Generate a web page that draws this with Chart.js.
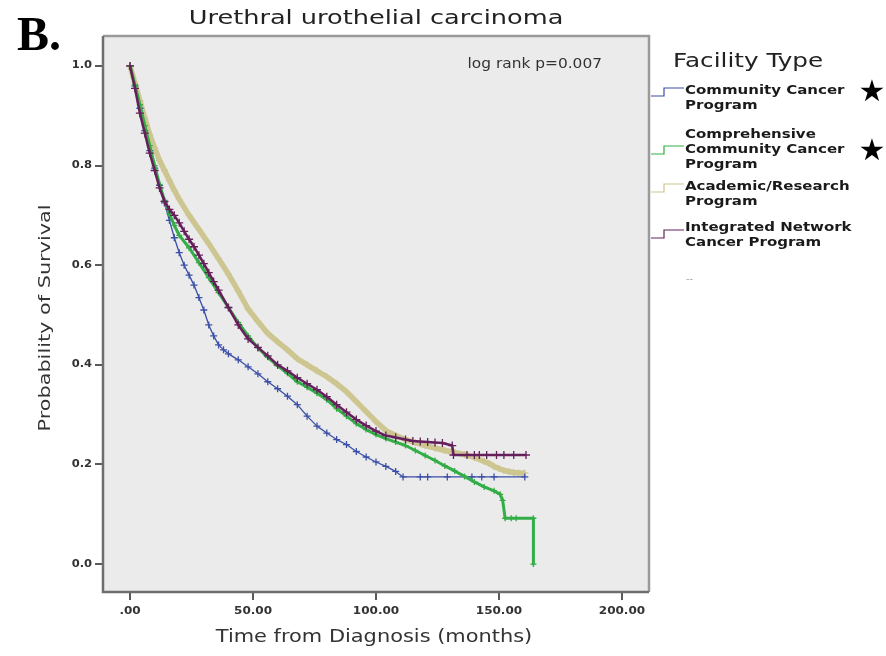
<!DOCTYPE html>
<html>
<head>
<meta charset="utf-8">
<script src="https://cdn.jsdelivr.net/npm/chart.js@4.4.1/dist/chart.umd.min.js"></script>
<style>
html, body { margin: 0; padding: 0; background: #fff; }
canvas { display: block; }
</style>
</head>
<body>
<canvas id="km" width="886" height="656"></canvas>
<script>
// axis ticks
const xTicks = [0, 50, 100, 150, 200];
const yTicks = [0, 0.2, 0.4, 0.6, 0.8, 1.0];

// Community Cancer Program (blue)
const communityMonths = [0,2,4,6,8,10,12,14,16,18,20,22,24,26,28,30,32,34,36,38,40,44,48,52,56,60,64,68,72,76,80,84,88,92,96,100,104,108,111,118,121,129,139,143,148,160.5];
const communitySurv = [1,0.96,0.915,0.87,0.83,0.795,0.76,0.725,0.69,0.655,0.625,0.6,0.58,0.56,0.535,0.51,0.48,0.458,0.44,0.43,0.422,0.41,0.396,0.382,0.366,0.352,0.337,0.32,0.297,0.277,0.263,0.25,0.24,0.226,0.215,0.205,0.196,0.186,0.175,0.175,0.175,0.175,0.175,0.175,0.175,0.175];

// Comprehensive Community Cancer Program (green)
const comprehensiveMonths = [0,2,4,6,8,10,12,14,16,18,20,24,28,32,36,40,44,48,52,56,60,64,68,72,76,80,84,88,92,96,100,104,108,112,116,120,124,128,132,136,140,144,148,150.5,151.5,152.5,155,157,164,164];
const comprehensiveSurv = [1,0.962,0.922,0.88,0.84,0.8,0.762,0.73,0.703,0.68,0.66,0.635,0.605,0.575,0.545,0.515,0.485,0.458,0.434,0.415,0.398,0.383,0.366,0.355,0.343,0.33,0.312,0.297,0.282,0.27,0.26,0.252,0.245,0.238,0.228,0.218,0.208,0.197,0.187,0.176,0.165,0.155,0.147,0.14,0.128,0.092,0.092,0.092,0.092,0.0];

// Academic/Research Program (tan)
const academicMonths = [0,2,4,6,8,10,12,14,16,18,20,24,28,32,36,40,44,48,52,56,60,64,68,72,76,80,84,88,92,96,100,104,108,112,116,120,124,128,132,136,140,144,146,148,150,152,154,156,158,160.5];
const academicSurv = [1,0.965,0.93,0.895,0.862,0.835,0.81,0.79,0.77,0.75,0.732,0.7,0.672,0.643,0.613,0.582,0.548,0.512,0.487,0.463,0.446,0.43,0.412,0.4,0.388,0.376,0.362,0.346,0.326,0.306,0.286,0.268,0.258,0.25,0.244,0.238,0.233,0.228,0.224,0.22,0.214,0.206,0.202,0.196,0.192,0.188,0.186,0.184,0.183,0.183];

// Integrated Network Cancer Program (purple)
const integratedMonths = [0,2,4,6,8,10,12,14,16,18,20,22,24,26,28,30,32,34,36,40,44,48,52,56,60,64,68,72,76,80,84,88,92,96,100,104,108,112,115,118,121,124,127,131,131.5,137,140,142,145,149,152,156,161];
const integratedSurv = [1,0.955,0.905,0.865,0.825,0.79,0.755,0.728,0.712,0.7,0.685,0.668,0.652,0.637,0.62,0.603,0.585,0.567,0.55,0.515,0.48,0.452,0.435,0.418,0.4,0.388,0.374,0.362,0.35,0.336,0.32,0.305,0.29,0.278,0.267,0.258,0.254,0.25,0.247,0.246,0.245,0.244,0.243,0.238,0.219,0.219,0.219,0.219,0.219,0.219,0.219,0.219,0.219];

const legendLines = [
  ['Community Cancer', 'Program'],
  ['Comprehensive', 'Community Cancer', 'Program'],
  ['Academic/Research', 'Program'],
  ['Integrated Network', 'Cancer Program']
];

const blue = '#3b4fa6', green = '#33ad46', tan = '#cdc690', purple = '#65205c';

function pts(t, s) {
  return t.map((v, i) => ({ x: v, y: s[i] }));
}

function series(label, t, s, color, width, crossR, order) {
  return {
    label: label,
    data: pts(t, s),
    borderColor: color,
    backgroundColor: color,
    borderWidth: width,
    tension: 0,
    borderJoinStyle: 'round',
    pointStyle: 'cross',
    pointRadius: crossR,
    pointBorderWidth: 1.3,
    pointBorderColor: color,
    fill: false,
    order: order
  };
}

function txt(ctx, s, x, y, o) {
  ctx.save();
  ctx.font = o.font;
  ctx.fillStyle = o.color || '#222';
  ctx.textAlign = o.align || 'left';
  ctx.textBaseline = 'middle';
  ctx.translate(x, y);
  if (o.rot) ctx.rotate(o.rot);
  ctx.scale(o.sx || 1, 1);
  ctx.fillText(s, 0, 0);
  ctx.restore();
}

const decor = {
  id: 'decor',
  beforeDraw(chart) {
    const ctx = chart.ctx, a = chart.chartArea;
    ctx.save();
    ctx.fillStyle = '#fff';
    ctx.fillRect(0, 0, chart.width, chart.height);
    ctx.fillStyle = '#ebebeb';
    ctx.fillRect(a.left, a.top, a.right - a.left, a.bottom - a.top);
    ctx.restore();
  },
  afterDraw(chart) {
    const ctx = chart.ctx, a = chart.chartArea;
    const xs = chart.scales.x, ys = chart.scales.y;

    // frame
    ctx.save();
    ctx.lineWidth = 2.5;
    ctx.strokeStyle = '#9a9a9a';
    ctx.beginPath();
    ctx.moveTo(a.left, a.top); ctx.lineTo(a.right, a.top); ctx.lineTo(a.right, a.bottom);
    ctx.stroke();
    ctx.strokeStyle = '#6e6e6e';
    ctx.beginPath();
    ctx.moveTo(a.left, a.top); ctx.lineTo(a.left, a.bottom); ctx.lineTo(a.right, a.bottom);
    ctx.stroke();
    ctx.restore();

    // tick labels
    xTicks.forEach(v => {
      const lab = v === 0 ? '.00' : v.toFixed(2);
      txt(ctx, lab, xs.getPixelForValue(v), 611, { font: 'bold 10px "DejaVu Sans"', color: '#333', align: 'center', sx: 1.2 });
    });
    yTicks.forEach(v => {
      txt(ctx, v.toFixed(1), 92, ys.getPixelForValue(v), { font: 'bold 10px "DejaVu Sans"', color: '#333', align: 'right', sx: 1.15 });
    });

    // titles
    txt(ctx, 'B.', 17, 38, { font: 'bold 48px "Liberation Serif"', color: '#000' });
    txt(ctx, 'Urethral urothelial carcinoma', (a.left + a.right) / 2, 19, { font: '20px "DejaVu Sans"', color: '#222', align: 'center', sx: 1.28 });
    txt(ctx, 'Time from Diagnosis (months)', 374, 638, { font: '17px "DejaVu Sans"', color: '#333', align: 'center', sx: 1.23 });
    txt(ctx, 'Probability of Survival', 46, 318, { font: '16px "DejaVu Sans"', color: '#333', align: 'center', rot: -Math.PI / 2, sx: 1.3 });
    txt(ctx, 'log rank p=0.007', 602, 64, { font: '14px "DejaVu Sans"', color: '#333', align: 'right', sx: 1.1 });

    // legend
    txt(ctx, 'Facility Type', 673, 62, { font: '19px "DejaVu Sans"', color: '#222', sx: 1.3 });
    const colors = [blue, green, tan, purple];
    const firstY = [91, 135, 187, 228];
    const stepY = [88, 146, 184, 230];
    ctx.save();
    ctx.beginPath();
    ctx.rect(640, 70, 216, 240);
    ctx.clip();
    legendLines.forEach((lines, i) => {
      lines.forEach((s, j) => {
        txt(ctx, s, 685, firstY[i] + j * 15, { font: 'bold 12px "DejaVu Sans"', color: '#1a1a1a', sx: 1.25 });
      });
      ctx.strokeStyle = colors[i];
      ctx.lineWidth = 1.2;
      ctx.beginPath();
      ctx.moveTo(651, stepY[i] + 8);
      ctx.lineTo(664, stepY[i] + 8);
      ctx.lineTo(664, stepY[i]);
      ctx.lineTo(684, stepY[i]);
      ctx.stroke();
    });
    ctx.restore();
    txt(ctx, '--', 686, 279, { font: '10px "DejaVu Sans"', color: '#aaa' });
    txt(ctx, '\u2605', 872, 93, { font: '30px "DejaVu Sans"', color: '#000', align: 'center' });
    txt(ctx, '\u2605', 872, 152, { font: '30px "DejaVu Sans"', color: '#000', align: 'center' });
  }
};

new Chart(document.getElementById('km'), {
  type: 'line',
  data: {
    datasets: [
      series('Community Cancer Program', communityMonths, communitySurv, blue, 1.3, 3.5, 2),
      series('Comprehensive Community Cancer Program', comprehensiveMonths, comprehensiveSurv, green, 3, 3, 1),
      series('Academic/Research Program', academicMonths, academicSurv, tan, 5.5, 3.5, 3),
      series('Integrated Network Cancer Program', integratedMonths, integratedSurv, purple, 2.5, 4, 0)
    ]
  },
  options: {
    responsive: false,
    animation: false,
    layout: { padding: { left: 0, right: 237, top: 36, bottom: 0 } },
    plugins: {
      legend: { display: false },
      title: { display: false },
      tooltip: { enabled: false }
    },
    scales: {
      x: {
        type: 'linear',
        min: -11,
        max: 211,
        afterBuildTicks: s => { s.ticks = xTicks.map(v => ({ value: v })); },
        afterFit: s => { s.height = 64; },
        grid: { drawOnChartArea: false, drawTicks: true, tickLength: 8, color: '#5a5a5a', lineWidth: 2 },
        border: { display: false },
        ticks: { display: false }
      },
      y: {
        type: 'linear',
        min: -0.056,
        max: 1.06,
        afterBuildTicks: s => { s.ticks = yTicks.map(v => ({ value: v })); },
        afterFit: s => { s.width = 103; },
        grid: { drawOnChartArea: false, drawTicks: true, tickLength: 8, color: '#5a5a5a', lineWidth: 2 },
        border: { display: false },
        ticks: { display: false }
      }
    }
  },
  plugins: [decor]
});
</script>
</body>
</html>
